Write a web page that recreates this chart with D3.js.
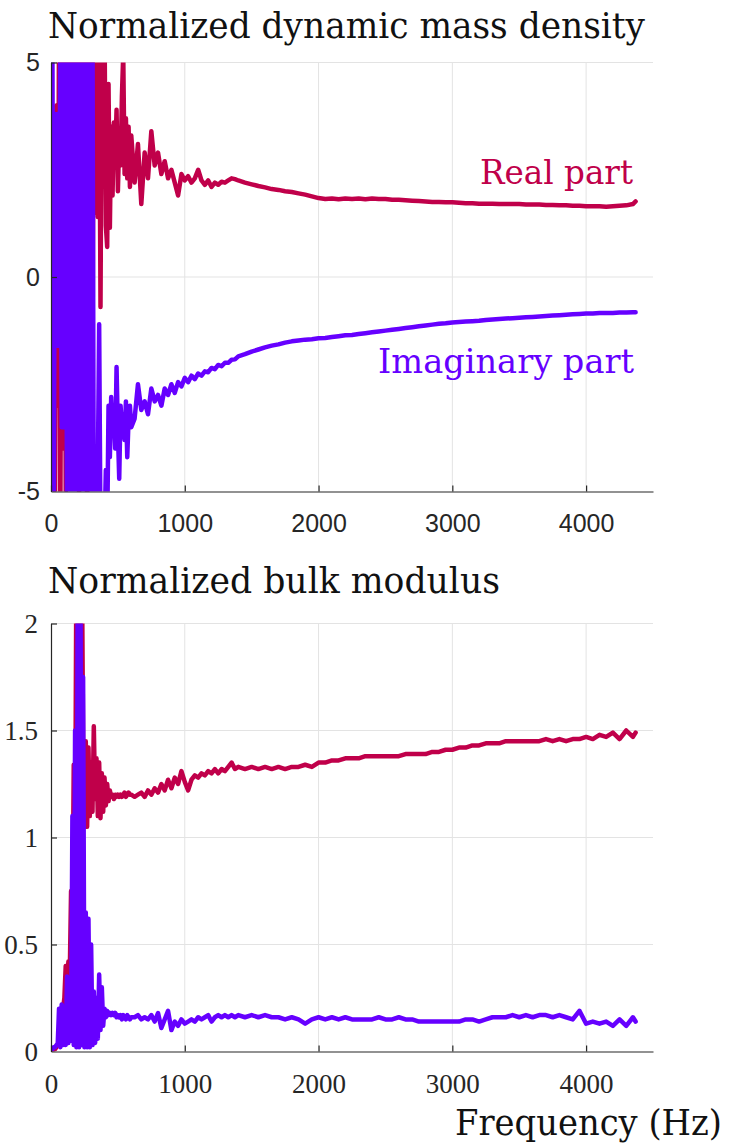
<!DOCTYPE html>
<html><head><meta charset="utf-8">
<script src="https://cdn.jsdelivr.net/npm/d3@7"></script>
<style>body{margin:0;background:#fff}svg{display:block}</style>
</head><body>
<svg id="c" width="738" height="1147"></svg>
<script>
// ---------- DATA ----------
const freqLow = [0,10,20,30,40,50,60,70,80,90,100,110,120,130,140,150,160,170,180,190,200,210,220,230,240,250,260,270,280,290,300,310,320,330,340,350,360,370,380,390,400,410,420,430,440,450,460,470,480,490,500,510,520,530,540,550,560,570,580,590,600];
const freqMid = [625,650,675,700,725,750,775,800,825,850,875,900,925,950,975,1000,1025,1050,1075,1100,1125,1150,1175,1200,1225,1250,1275,1300,1325,1350,1375,1400];
const freqHigh = [1450,1500,1550,1600,1650,1700,1750,1800,1850,1900,1950,2000,2050,2100,2150,2200,2250,2300,2350,2400,2450,2500,2550,2600,2650,2700,2750,2800,2850,2900,2950,3000,3050,3100,3150,3200,3250,3300,3350,3400,3450,3500,3550,3600,3650,3700,3750,3800,3850,3900,3950,4000,4050,4100,4150,4200,4250,4300,4350,4370];

// Normalized dynamic mass density
const rhoReLow = [3.0,-4.0,2.0,-5.5,4.0,-3,6,-6,5,-4, 6,-5,7,-3,6,-4,7,-0.8,8,-3, 6,-5,7,-2,8,-4,6,-6,7,-3, 8,-2.5,6,1.5,7,1.4,6,-0.7,5.5,2.5, 6,1.2,0.7,4.5,1.15,3.5,1.9,3.6,2.8,3.9, 2.0,3.2,2.6,4.2,5.2,2.4,3.7,2.3,3.5,2.1, 3.3];
const rhoReMid = [2.2,3.1,1.7,2.9,2.3,3.4,2.6,2.9,2.4,2.7, 2.3,2.5,2.2,1.9,2.4,2.25,2.35,2.2,2.3,2.5, 2.25,2.15,2.25,2.1,2.2,2.15,2.22,2.2,2.25,2.3, 2.28,2.25];
const rhoReHigh = [2.2,2.16,2.12,2.09,2.05,2.03,2.0,1.98,1.95,1.92, 1.88,1.84,1.82,1.83,1.81,1.83,1.82,1.83,1.81,1.83, 1.82,1.82,1.8,1.8,1.79,1.78,1.77,1.76,1.75,1.75, 1.74,1.74,1.73,1.72,1.72,1.71,1.71,1.71,1.7,1.7, 1.7,1.7,1.69,1.69,1.69,1.68,1.68,1.67,1.67,1.66, 1.66,1.65,1.65,1.65,1.64,1.65,1.66,1.67,1.7,1.76];
const rhoImLow = [3.7,6,-6,3.8,-1.6,3.8,-1.6,6,-3.5,6, -3.5,6,-6,6,-6,6,-6,6,-6,6, -6,6,-6,6,-6,6,-6,6,-6,6, -6,6,-6,-4.5,-5.5,-4.6,-1.1,-6,-5.5,-6, -6,-4.5,-6,-3.0,-4.2,-2.8,-3.6,-3.2,-4.0,-2.1, -3.6,-4.7,-3.0,-3.5,-3.2,-3.8,-2.9,-4.2,-3.3,-3.0, -3.5];
const rhoImMid = [-3.3,-2.5,-3.1,-2.9,-3.2,-2.6,-2.9,-2.75,-3.0,-2.6, -2.75,-2.5,-2.7,-2.45,-2.55,-2.35,-2.45,-2.3,-2.38,-2.25, -2.3,-2.2,-2.22,-2.12,-2.15,-2.05,-2.08,-2.0,-2.0,-1.93, -1.92,-1.85];
const rhoImHigh = [-1.8,-1.74,-1.69,-1.64,-1.6,-1.57,-1.53,-1.5,-1.48,-1.46, -1.45,-1.43,-1.42,-1.4,-1.38,-1.36,-1.35,-1.33,-1.31,-1.29, -1.27,-1.25,-1.23,-1.21,-1.19,-1.17,-1.15,-1.13,-1.11,-1.09, -1.08,-1.06,-1.05,-1.04,-1.03,-1.02,-1.0,-0.99,-0.98,-0.97, -0.96,-0.95,-0.94,-0.93,-0.92,-0.91,-0.9,-0.89,-0.88,-0.87, -0.86,-0.85,-0.85,-0.84,-0.84,-0.84,-0.83,-0.83,-0.82,-0.82];

// Normalized bulk modulus
const kReLow = [0.0,0.0,0.01,0.01,0.02,0.03,0.06,0.1,0.15,0.2, 0.25,0.4,0.3,0.42,0.35,0.75,0.55,1.34,0.9,2.3, 1.3,2.5,1.6,2.4,1.45,1.05,1.45,1.05,1.42,1.1, 1.35,1.12,1.52,1.18,1.37,1.1,1.35,1.09,1.3,1.12, 1.28,1.15,1.25,1.17,1.22,1.19,1.2,1.18,1.2,1.19, 1.2,1.19,1.2,1.19,1.2,1.21,1.19,1.2,1.21,1.2, 1.2];
const kReMid = [1.19,1.2,1.21,1.19,1.22,1.2,1.23,1.21,1.25,1.22, 1.27,1.23,1.28,1.25,1.31,1.26,1.22,1.27,1.29,1.28, 1.3,1.29,1.31,1.3,1.32,1.3,1.32,1.31,1.33,1.35, 1.32,1.33];
const kReHigh = [1.32,1.33,1.32,1.33,1.32,1.33,1.32,1.33,1.33,1.34, 1.33,1.35,1.35,1.36,1.36,1.37,1.37,1.37,1.38,1.38, 1.38,1.38,1.38,1.38,1.39,1.39,1.39,1.39,1.4,1.4, 1.41,1.41,1.42,1.42,1.43,1.43,1.44,1.44,1.44,1.45, 1.45,1.45,1.45,1.45,1.45,1.46,1.45,1.46,1.45,1.46, 1.46,1.47,1.46,1.48,1.47,1.49,1.46,1.5,1.47,1.49];
const kImLow = [0.01,0.01,0.02,0.02,0.03,0.03,0.2,0.02,0.22,0.03, 0.21,0.03,0.35,0.04,0.34,0.05,1.1,0.03,1.5,0.02, 2.3,0.02,2.3,0.03,1.75,0.02,0.65,0.02,0.62,0.02, 0.5,0.03,0.28,0.04,0.25,0.06,0.36,0.1,0.3,0.12, 0.2,0.16,0.19,0.17,0.18,0.17,0.18,0.17,0.18,0.16, 0.17,0.16,0.17,0.15,0.17,0.16,0.15,0.17,0.16,0.15, 0.16];
const kImMid = [0.16,0.17,0.15,0.16,0.15,0.17,0.14,0.18,0.11,0.15, 0.19,0.1,0.14,0.12,0.15,0.13,0.14,0.15,0.14,0.16, 0.15,0.16,0.17,0.14,0.16,0.17,0.16,0.17,0.16,0.17, 0.16,0.17];
const kImHigh = [0.16,0.17,0.16,0.17,0.16,0.16,0.15,0.16,0.15,0.13, 0.15,0.16,0.15,0.16,0.15,0.16,0.15,0.15,0.15,0.15, 0.16,0.15,0.15,0.16,0.15,0.15,0.14,0.14,0.14,0.14, 0.14,0.14,0.14,0.15,0.15,0.14,0.15,0.16,0.16,0.16, 0.17,0.16,0.17,0.16,0.17,0.17,0.16,0.17,0.16,0.15, 0.19,0.13,0.14,0.13,0.14,0.12,0.15,0.12,0.16,0.14];

const xTicks = [0,1000,2000,3000,4000];
const yTicksTop = [-5,0,5];
const yTicksBot = [0,0.5,1,1.5,2];
const titles = ["Normalized dynamic mass density","Normalized bulk modulus"];
const seriesLabels = ["Real part","Imaginary part"];
const xLabel = "Frequency (Hz)";

// ---------- CHART ----------
const RED = "#C0004A", PURPLE = "#6600FF", AX = "#262626", GRID = "#e3e3e3";
const freq = freqLow.concat(freqMid, freqHigh);
const svg = d3.select("#c");
const x = d3.scaleLinear().domain([0,4500]).range([51,653]);

function panel(id, y, yTicks, tickFont, tickSize, re, im, labelPadX, labelPadY) {
  const g = svg.append("g");
  const [y0, y1] = y.range(); // bottom, top
  g.append("clipPath").attr("id", id).append("rect")
    .attr("x", x.range()[0]).attr("y", y1).attr("width", x.range()[1]-x.range()[0]).attr("height", y0-y1);
  // grid
  g.append("g").selectAll("line").data(xTicks.filter(d=>d>0)).join("line")
    .attr("x1", d=>x(d)).attr("x2", d=>x(d)).attr("y1", y1).attr("y2", y0)
    .attr("stroke", GRID).attr("stroke-width", 1);
  g.append("g").selectAll("line").data(yTicks.filter(d=>d!==y.domain()[0])).join("line")
    .attr("x1", x.range()[0]).attr("x2", x.range()[1]).attr("y1", d=>y(d)).attr("y2", d=>y(d))
    .attr("stroke", GRID).attr("stroke-width", 1);
  // lines
  const line = d3.line().x((d,i)=>x(freq[i])).y(d=>y(d));
  const lg = g.append("g").attr("clip-path", `url(#${id})`);
  lg.append("path").attr("d", line(re)).attr("fill","none").attr("stroke", RED)
    .attr("stroke-width", 4.5).attr("stroke-linejoin","round").attr("stroke-linecap","round");
  lg.append("path").attr("d", line(im)).attr("fill","none").attr("stroke", PURPLE)
    .attr("stroke-width", 4.5).attr("stroke-linejoin","round").attr("stroke-linecap","round");
  // axes
  const xa = g.append("g").attr("transform", `translate(0,${y0})`)
    .call(d3.axisBottom(x).tickValues(xTicks).tickFormat(d=>String(d)).tickSize(-6).tickSizeOuter(0).tickPadding(labelPadX));
  const ya = g.append("g").attr("transform", `translate(${x.range()[0]},0)`)
    .call(d3.axisLeft(y).tickValues(yTicks).tickFormat(d=>String(d)).tickSize(-6).tickSizeOuter(0).tickPadding(labelPadY));
  [xa, ya].forEach(a => {
    a.select(".domain").attr("stroke", AX).attr("stroke-width", 1.2);
    a.selectAll(".tick line").attr("stroke", AX).attr("stroke-width", 1.2);
    a.selectAll(".tick text").attr("fill", AX).style("font-family", tickFont).style("font-size", tickSize + "px");
  });
  ya.selectAll(".tick line").filter(d=>d===y.domain()[0]).remove();
  return g;
}

const yTop = d3.scaleLinear().domain([-5,5]).range([491.5,62.5]);
const yBot = d3.scaleLinear().domain([0,2]).range([1051.5,623.5]);

panel("clipTop", yTop, yTicksTop, "'Liberation Sans', Arial, sans-serif", 25,
  rhoReLow.concat(rhoReMid, rhoReHigh), rhoImLow.concat(rhoImMid, rhoImHigh), 23, 11);
panel("clipBot", yBot, yTicksBot, "'Liberation Serif', 'Times New Roman', serif", 27,
  kReLow.concat(kReMid, kReHigh), kImLow.concat(kImMid, kImHigh), 22, 13);

// texts
const serif = "'DejaVu Serif', serif";
function txt(s, xp, yp, len, size, color, anchor) {
  svg.append("text").attr("x", xp).attr("y", yp).text(s)
    .attr("font-family", serif).attr("font-size", size).attr("fill", color)
    .attr("text-anchor", anchor || "start")
    .attr("textLength", len).attr("lengthAdjust", "spacingAndGlyphs");
}
txt(titles[0], 48, 38, 597, 35, "#111");
txt(titles[1], 48, 593, 452, 35, "#111");
txt(seriesLabels[0], 633, 184, 153, 34, RED, "end");
txt(seriesLabels[1], 634, 373, 256, 34, PURPLE, "end");
txt(xLabel, 722, 1135, 267, 35, "#111", "end");
</script>
</body></html>
